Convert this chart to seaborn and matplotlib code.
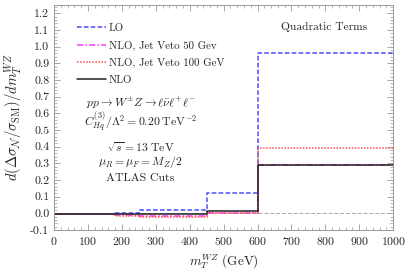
import matplotlib
matplotlib.use("Agg")
import matplotlib.pyplot as plt
import numpy as np
import pandas as pd
import seaborn as sns

# bin edges of m_T^{WZ} (GeV) and the per-bin values
bin_edges = [0, 180, 250, 450, 600, 1000]
lo = [-0.004, 0.004, 0.02, 0.12, 0.96]
nlo_jv50 = [-0.004, -0.010, -0.014, 0.0, 0.29]
nlo_jv100 = [-0.004, -0.013, -0.021, 0.0, 0.392]
nlo = [-0.004, -0.004, -0.004, 0.013, 0.292]

series_names = ["LO", "NLO, Jet Veto 50 Gev", "NLO, Jet Veto 100 GeV", "NLO"]
series_values = [lo, nlo_jv50, nlo_jv100, nlo]
colors = ["#4b4bff", "#ff33ff", "#ff5050", "#222222"]
dash_styles = [(3, 1.5), (4, 1.5, 1, 1.5), (1, 1), ""]

rows = []
for name, vals in zip(series_names, series_values):
    ys = list(vals) + [vals[-1]]
    for x, y in zip(bin_edges, ys):
        rows.append({"x": x, "y": y, "series": name})
df = pd.DataFrame(rows)

sns.set_style("ticks")
plt.rcParams["font.family"] = "serif"
plt.rcParams["font.serif"] = ["cmr10"]
plt.rcParams["mathtext.fontset"] = "cm"
plt.rcParams["axes.formatter.use_mathtext"] = True

fig, ax = plt.subplots(figsize=(4.07, 2.71), dpi=100)
plt.subplots_adjust(left=0.133, right=0.966, top=0.982, bottom=0.151)

ax.axhline(0, color="#aaaaaa", lw=0.7, ls=(0, (4, 2)), zorder=1)

sns.lineplot(
    data=df, x="x", y="y", hue="series", style="series",
    hue_order=series_names, style_order=series_names,
    palette=colors, dashes=dash_styles, drawstyle="steps-post",
    estimator=None, sort=False, lw=1.1, ax=ax,
)

handles, labels = ax.get_legend_handles_labels()
ax.legend(handles, labels, loc="upper left", frameon=False, fontsize=7.8,
          bbox_to_anchor=(0.04, 0.96), handlelength=2.6, labelspacing=0.68,
          handletextpad=0.3)

ax.set_xlim(0, 1000)
ax.set_ylim(-0.1, 1.25)
ax.set_xticks(np.arange(0, 1001, 100))
ax.set_yticks(np.arange(-0.1, 1.21, 0.1))
ax.set_xticks(np.arange(0, 1001, 20), minor=True)
ax.set_yticks(np.arange(-0.1, 1.25, 0.02), minor=True)
ax.yaxis.set_major_formatter(matplotlib.ticker.FormatStrFormatter("%.1f"))
ax.tick_params(which="both", direction="in", top=True, right=True,
               color="#999999", labelsize=8.5)
ax.tick_params(which="major", length=4, width=0.6)
ax.tick_params(which="minor", length=2, width=0.5)
for sp in ax.spines.values():
    sp.set_color("#999999")
    sp.set_linewidth(0.7)

ax.set_xlabel(r"$m_T^{WZ}$ (GeV)", fontsize=9.5)
ax.set_ylabel(r"$d(\Delta\sigma_{\mathcal{N}}/\sigma_{\rm SM})/dm_T^{WZ}$", fontsize=10.5)

ax.text(0.923, 0.902, "Quadratic Terms", transform=ax.transAxes, ha="right",
        va="center", fontsize=8.3)
cx = 0.255
ax.text(cx, 0.565, r"$pp\rightarrow W^{\pm}Z\rightarrow \ell\bar{\nu}\ell^{+}\ell^{-}$",
        transform=ax.transAxes, ha="center", va="center", fontsize=8.5)
ax.text(cx, 0.475, r"$C_{Hq}^{(3)}/\Lambda^2 = 0.20\;\mathrm{TeV}^{-2}$",
        transform=ax.transAxes, ha="center", va="center", fontsize=8.5)
ax.text(cx, 0.369, r"$\sqrt{s} = 13\;\mathrm{TeV}$",
        transform=ax.transAxes, ha="center", va="center", fontsize=8.5)
ax.text(cx, 0.302, r"$\mu_R = \mu_F = M_Z/2$",
        transform=ax.transAxes, ha="center", va="center", fontsize=8.5)
ax.text(cx, 0.231, "ATLAS Cuts",
        transform=ax.transAxes, ha="center", va="center", fontsize=8.5)

fig.savefig("out.png", dpi=100)
